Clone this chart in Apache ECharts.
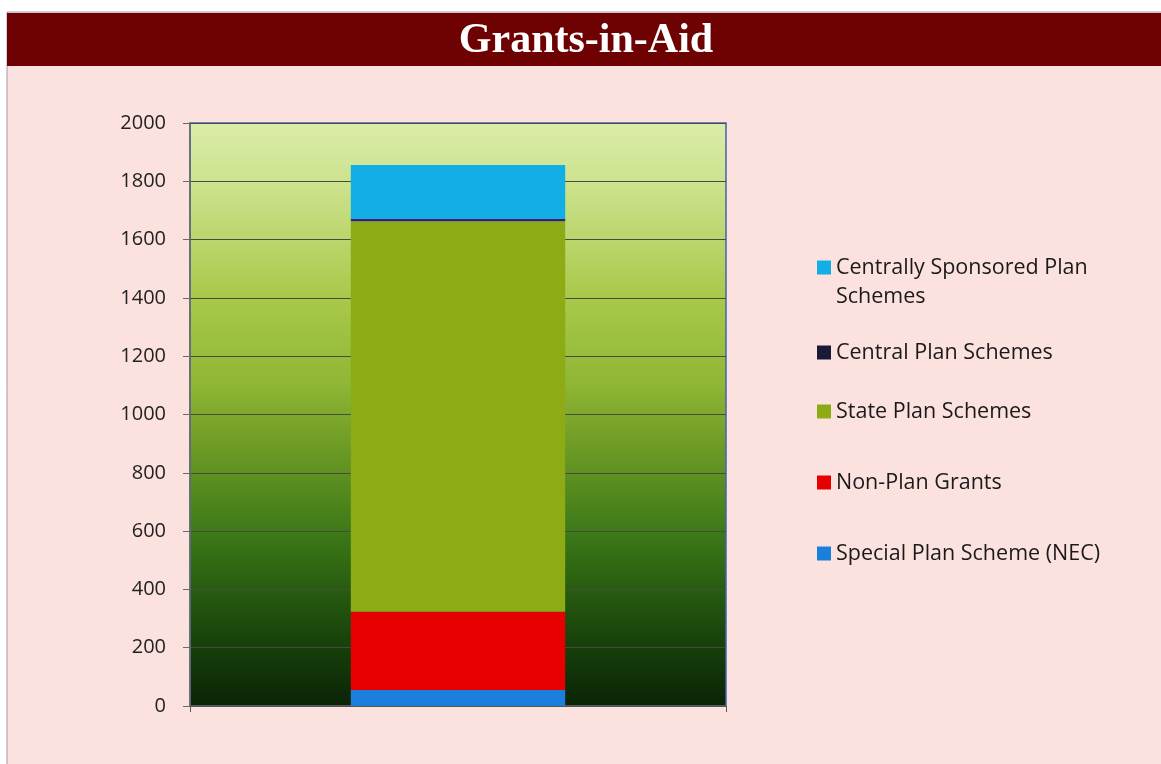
<!DOCTYPE html>
<html>
<head>
<meta charset="utf-8">
<title>Grants-in-Aid</title>
<script src="https://cdn.jsdelivr.net/npm/echarts@6/dist/echarts.min.js"></script>
<style>
  html, body { margin: 0; padding: 0; background: #ffffff; }
  #main { width: 1161px; height: 764px; }
</style>
</head>
<body>
<div id="main"></div>
<script>
// data, bottom of the stack first
var categories = [''];
var seriesNames = ['Special Plan Scheme (NEC)', 'Non-Plan Grants', 'State Plan Schemes', 'Central Plan Schemes', 'Centrally Sponsored Plan Schemes'];
var specialNEC = [55];
var nonPlan = [268];
var statePlan = [1340];
var centralPlan = [8];
var centrallySponsored = [185];
var yTicks = [0, 200, 400, 600, 800, 1000, 1200, 1400, 1600, 1800, 2000];

var colors = ['#1a80dc', '#e60000', '#8cab14', '#3a1d85', '#12aee6'];
var legendIconColors = ['#1a80dc', '#e60000', '#8cab14', '#1a1a38', '#12aee6'];
// legend rows, top item first (centre y of the first text line)
var legendRows = [
    { idx: 4, y: 267 },
    { idx: 3, y: 350 },
    { idx: 2, y: 409 },
    { idx: 1, y: 480 },
    { idx: 0, y: 551 }
];

var chart = echarts.init(document.getElementById('main'));

var values = [specialNEC, nonPlan, statePlan, centralPlan, centrallySponsored];
var series = values.map(function (v, i) {
    return {
        name: seriesNames[i],
        type: 'bar',
        stack: 'grants',
        barWidth: '40%',
        data: v,
        itemStyle: { color: colors[i] }
    };
});

var legends = legendRows.map(function (r) {
    var twoLines = r.idx === 4;
    return {
        orient: 'vertical',
        left: 817,
        // the wrapped item gets a blank line on top so the icon sits by line one
        top: twoLines ? r.y - 33.5 : r.y - 8.5,
        padding: 0,
        itemWidth: 14,
        itemHeight: 14,
        itemGap: 0,
        icon: 'rect',
        selectedMode: false,
        data: [{ name: seriesNames[r.idx], itemStyle: { color: legendIconColors[r.idx] } }],
        formatter: function (n) {
            if (n === 'Centrally Sponsored Plan Schemes') {
                return '{sp| }\n{t|Centrally Sponsored Plan}\n{t|Schemes}';
            }
            return '{t|' + n + '}';
        },
        textStyle: {
            rich: {
                sp: { fontSize: 10, lineHeight: 29 },
                t: {
                    fontFamily: 'Open Sans',
                    fontSize: 21.5,
                    lineHeight: 29,
                    color: '#1a1a1a'
                }
            }
        }
    };
});

var option = {
    animation: false,
    backgroundColor: '#ffffff',
    graphic: [
        {
            type: 'rect',
            z: -10,
            shape: { x: 7, y: 12, width: 1160, height: 760 },
            style: { fill: '#fbe2de', stroke: '#a898b0', lineWidth: 1 }
        },
        {
            type: 'rect',
            z: -9,
            shape: { x: 7, y: 13, width: 1160, height: 53 },
            style: { fill: '#6e0202' }
        }
    ],
    title: {
        text: 'Grants-in-Aid',
        left: 581,
        top: 15,
        textAlign: 'center',
        textStyle: {
            fontFamily: 'Liberation Serif',
            fontWeight: 'bold',
            fontSize: 42,
            color: '#ffffff'
        }
    },
    legend: legends,
    grid: {
        left: 190,
        right: 435,
        top: 123,
        bottom: 58,
        show: true,
        borderColor: '#3f66b0',
        borderWidth: 1.5,
        backgroundColor: {
            type: 'linear', x: 0, y: 0, x2: 0, y2: 1,
            colorStops: [
                { offset: 0, color: '#dbeca9' },
                { offset: 0.1, color: '#cde38e' },
                { offset: 0.3, color: '#a9c94a' },
                { offset: 0.45, color: '#8fb634' },
                { offset: 0.55, color: '#6f9c26' },
                { offset: 0.7, color: '#3d7a18' },
                { offset: 0.8, color: '#275c10' },
                { offset: 0.9, color: '#163f0a' },
                { offset: 1, color: '#0b2306' }
            ]
        }
    },
    xAxis: {
        type: 'category',
        data: categories,
        axisLine: { lineStyle: { color: '#5a5a5a', width: 1.5 } },
        axisTick: { show: true, length: 6, lineStyle: { color: '#5a5a5a' } },
        axisLabel: { show: false }
    },
    yAxis: {
        type: 'value',
        min: yTicks[0],
        max: yTicks[yTicks.length - 1],
        interval: yTicks[1] - yTicks[0],
        axisLine: { show: true, lineStyle: { color: '#6a6a6a', width: 1.5 } },
        axisTick: { show: true, length: 7, lineStyle: { color: '#6a6a6a' } },
        axisLabel: {
            margin: 24,
            fontFamily: 'Open Sans',
            fontSize: 20,
            color: '#222222',
            formatter: function (v) { return String(v); }
        },
        splitLine: { lineStyle: { color: '#4a4a3e', width: 1.2 } }
    },
    series: series
};

chart.setOption(option);
</script>
</body>
</html>
